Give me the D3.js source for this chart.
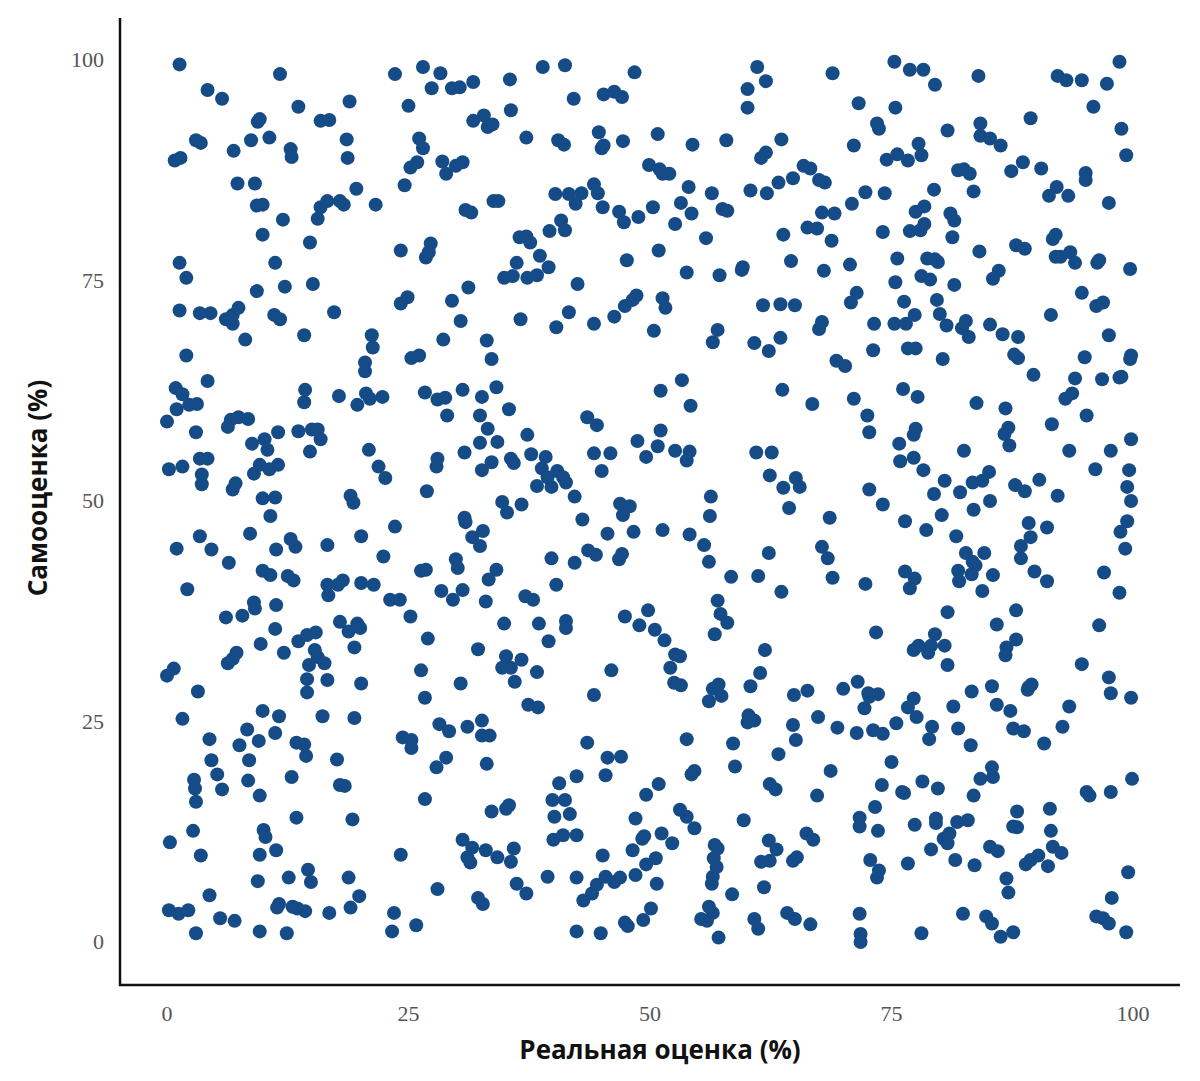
<!DOCTYPE html><html><head><meta charset="utf-8"><script src="https://cdn.jsdelivr.net/npm/d3@7"></script>
<style>body{margin:0;background:#fff}</style></head><body><svg id="c" width="1200" height="1081"></svg>
<script>
const xTicks=[0,25,50,75,100];
const yTicks=[0,25,50,75,100];
const xTitle="Реальная оценка (%)";
const yTitle="Самооценка (%)";
const pts=[
[1.3,99.5],[11.7,98.4],[23.6,98.4],[26.5,99.2],[28.3,98.5],[31.7,97.5],[35.5,97.8],[38.9,99.2],[41.2,99.4],[48.4,98.6],[61.1,99.2],[62,97.6],[68.9,98.5],[75.3,99.8],[76.9,98.9],[78.3,98.9],[79.5,97.2],[84,98.2],[92.2,98.2],[93.1,97.7],[94.7,97.7],[97.3,97.3],[98.6,99.8],[4.2,96.6],[5.7,95.6],[13.6,94.7],[18.9,95.3],[25,94.8],[27.4,96.8],[29.5,96.8],[30.3,96.9],[42.1,95.6],[45.2,96.1],[46.3,96.4],[47.1,95.8],[60.1,96.7],[60.1,94.6],[71.6,95.1],[75.4,94.6],[95.9,94.7],[3,90.9],[3.5,90.6],[0.8,88.6],[1.4,88.9],[6.9,89.7],[8.7,90.9],[9.4,93],[9.6,93.3],[12.8,89.9],[12.9,89],[15.9,93.1],[16.8,93.2],[18.6,91],[18.7,88.9],[25.2,87.8],[25.9,88.4],[26.1,91.1],[26.5,90],[28.5,88.5],[28.9,87.1],[29.9,88],[30.6,88.4],[31.7,93.1],[32.8,93.7],[33.2,92.4],[33.7,92.7],[35.6,94.3],[37.2,91.2],[40.5,90.9],[41.1,90.4],[42.3,83.7],[44.7,91.8],[45,90],[45.2,90.3],[47.2,90.8],[49.9,88.1],[50.8,91.6],[51,87.6],[51.3,87.1],[52,87.1],[53.2,83.8],[54,85.6],[54.4,90.4],[57.9,90.9],[61.5,88.9],[62,89.5],[63.6,91],[64.8,86.6],[65.9,88],[66.6,87.7],[67.5,86.4],[68.1,86.1],[70.9,83.7],[71.1,90.3],[72.3,85],[73.5,92.8],[73.7,92.2],[74.5,88.7],[75.6,89.3],[76.7,88.6],[78.1,89.2],[77.8,90.5],[80.8,92],[81.9,87.5],[82.5,87.6],[83.1,87.1],[84.2,91.4],[84.2,92.8],[85.2,91.1],[86.3,90.3],[87.4,87.4],[88.6,88.4],[89.4,93.4],[90.5,87.7],[91.3,84.6],[92.1,85.6],[93.3,84.6],[95.1,87.2],[95.1,86.4],[99.3,89.2],[98.8,92.2],[10.6,91.2],
[1.3,77],[2,75.3],[7.3,86],[9.1,86],[9.3,83.5],[9.9,83.6],[9.9,80.2],[12,81.9],[11.2,77],[14.8,79.3],[15.6,82],[15.9,83.3],[16.6,84],[17.9,84],[18.3,83.6],[21.6,83.6],[19.6,85.4],[24.2,78.4],[24.6,85.8],[26.8,77.6],[27.1,78.2],[27.3,79.2],[30.9,83],[31.5,82.7],[33.8,84],[34.3,84],[34.9,75.3],[35.8,75.5],[36.2,77],[36.5,79.9],[37.2,80],[37.6,79.3],[37.3,75.3],[38.3,75.6],[38.6,77.8],[39.5,76.5],[39.6,80.6],[40.2,84.8],[40.8,81.8],[41.2,80.7],[41.6,84.8],[42.9,84.9],[44.2,85.9],[44.6,84.9],[45.1,83.3],[46.8,82.8],[47.3,81.6],[47.6,77.3],[48.8,82.2],[50.3,83.3],[50.9,78.4],[52.6,81.4],[54.3,82.6],[55.8,79.8],[56.4,84.9],[57.5,83.1],[57.2,75.6],[58,82.9],[59.6,76.5],[60.4,85.2],[62.1,84.9],[63.3,86.1],[63.8,80.2],[64.6,77.2],[66.3,81],[67.3,80.9],[67.8,82.7],[68,76.1],[68.8,79.5],[69.1,82.6],[70.7,76.8],[71.4,73.6],[74.3,84.9],[74.1,80.5],[75.6,77.5],[76.9,80.6],[77.5,82.8],[78,80.7],[78.4,81.4],[78.4,83.4],[79.4,85.3],[79.8,77.1],[81.1,82.6],[81.5,81.8],[81.3,79.9],[83.5,85.1],[84.1,78.3],[86.1,76.1],[87.9,79],[88.8,78.6],[91.7,79.7],[92,80.2],[92.5,77.7],[93.5,78.2],[94,77],[96.3,77],[96.5,77.3],[97.5,83.8],[99.7,76.3],[92,77.7],[94.7,73.6],
[1.3,71.6],[2,66.5],[4.5,71.3],[6.1,70.6],[6.8,70.1],[6.8,71.1],[7.4,71.9],[8.1,68.3],[9.3,73.8],[11.1,71.1],[11.7,70.6],[12.2,74.3],[14.2,68.8],[15.1,74.6],[17.3,71.4],[19.7,60.9],[20.5,65.7],[20.5,64.7],[20.6,62.2],[21.2,68.8],[21.3,67.4],[22.3,61.8],[24.2,72.4],[24.9,73.1],[25.3,66.2],[26.1,66.5],[26.7,62.3],[28,61.5],[28.6,68.3],[29.5,72.7],[30.4,70.4],[31.2,74.2],[30.6,62.6],[32.6,61.8],[33.1,68.2],[33.6,66.1],[34.1,62.9],[35.4,60.4],[36.6,70.6],[40.3,69.7],[41.6,71.4],[42.5,74.6],[44.2,70.1],[46.3,70.9],[47.4,72.1],[48.2,72.8],[48.6,73.3],[50.4,69.3],[51.3,73],[51.6,71.9],[53.8,75.9],[53.3,63.7],[56.5,68],[57,69.4],[59.5,76.2],[60.8,67.9],[61.7,72.2],[62.3,67],[63.5,72.3],[63.5,68.5],[63.7,62.6],[65,72.2],[67.5,69.5],[67.8,70.3],[69.3,65.9],[70.2,65.3],[70.8,72.5],[71.1,61.6],[73.2,70.1],[73.1,67.1],[75.4,74.8],[75.3,70.1],[76.3,72.6],[76.5,70.1],[76.7,67.3],[77.4,71.1],[77.5,67.3],[76.2,62.7],[78.1,75.5],[78.7,77.5],[79,75.1],[79.5,77.4],[79.7,72.8],[80,71.2],[80.3,66.1],[80.7,69.9],[81.5,74.5],[82.3,69.6],[82.7,70.4],[83,68.6],[83.8,61.1],[85.2,70],[85.5,75.2],[86.5,68.9],[86.8,60.5],[87.7,66.6],[88.1,66.2],[88.1,68.6],[89.7,64.3],[91.5,71.1],[93,61.6],[93.7,62.2],[94,63.9],[95,66.3],[96.2,72.1],[96.9,72.5],[96.8,63.8],[97.5,68.8],[98.8,64.1],[99.8,66.5],[99.7,66.1],[0.9,62.8],[1.6,62.1],[3.1,61],[4.2,63.6],[6.3,58.4],[3.4,71.3],
[0,59],[0.2,53.6],[1,60.4],[1.6,53.9],[2.3,60.9],[3,57.8],[3.4,54.8],[3.6,51.9],[3.6,53],[4.2,54.8],[6.6,59.2],[6.8,51.3],[7.1,52],[7.4,59.5],[8.4,59.3],[8.8,56.5],[9,53.1],[9.6,54.1],[9.9,50.3],[10.1,57],[10.4,55.8],[10.6,53.6],[10.7,48.3],[11.2,50.4],[11.5,54.1],[11.5,57.8],[13.6,57.9],[14.2,61.2],[14.3,62.6],[14.8,55.6],[15,58.1],[15.6,58.1],[15.9,57],[17.8,61.9],[19,50.6],[19.3,49.8],[20.9,55.8],[21,61.6],[21.9,53.9],[22.6,52.6],[26.9,51.1],[27.9,53.9],[28,54.8],[28.8,61.7],[29,59.7],[30.8,55.5],[30.8,48.1],[30.9,47.6],[32.4,59.7],[32.4,56.6],[32.6,53.5],[33.2,58.2],[33.6,54.4],[34.2,56.7],[34.7,49.9],[35.2,48.7],[35.6,54.8],[35.9,54.3],[36.7,49.6],[37.3,57.5],[37.7,55.3],[38.3,51.7],[38.8,53.7],[39.2,55],[39.4,52.7],[39.8,51.6],[40.4,53.4],[41,52.7],[41.3,52.1],[42.2,50.5],[43,47.9],[43.5,59.5],[44.5,58.6],[44.2,55.4],[45,53.4],[45.9,55.4],[46.9,49.7],[47.2,48.4],[47.9,49.4],[48.3,46.5],[48.7,56.8],[49.6,55],[50.8,56.2],[51.1,58],[51.1,62.5],[52.6,55.7],[53.8,54.6],[54.1,55.6],[54.2,60.8],[56.3,50.5],[56.2,48.3],[61,55.5],[62.4,52.9],[62.6,55.5],[63.8,51.5],[64.4,49.2],[65.1,52.6],[65.5,51.6],[66.8,61],[68.6,48.1],[72.5,59.7],[72.7,57.8],[72.7,51.3],[74.1,49.6],[75.8,56.5],[75.9,54.5],[76.4,47.7],[77.3,57.5],[77.3,54.9],[77.5,58.2],[77.7,61.8],[78.3,53.5],[78.6,46.7],[79.4,50.8],[80.2,48.4],[80.5,52.3],[81.7,46],[82.1,51],[82.5,55.7],[83.4,52.1],[83.5,49],[84.4,52.3],[85.1,53.3],[85.2,50],[86.7,57.6],[87.1,58.3],[87.2,56.3],[87.8,51.8],[88.8,51.1],[89.4,45.9],[89.2,47.5],[91.1,47],[90.3,52.4],[91.6,58.7],[92.2,50.6],[93.4,55.7],[95.2,59.7],[96.1,53.6],[97.7,55.7],[99.4,51.6],[99.6,53.5],[99.8,50],[99.8,57],[98.7,46.5],[99.4,47.7],[98.6,64],
[1,44.6],[2.1,40],[3.4,46],[4.6,44.5],[6.4,43],[6.1,36.8],[6.8,32.1],[7.8,37],[6.3,31.6],[7.2,32.8],[8.3,24.1],[8.6,46.3],[9,38.5],[9.1,37.8],[9.9,42.1],[9.7,33.8],[10.7,41.6],[11.3,44.5],[11.3,38.2],[12.5,41.5],[13.1,41],[12.8,45.7],[13.3,44.8],[13.6,34.1],[14.5,34.8],[14.5,29.8],[14.7,31.4],[15.3,33.1],[15.6,32.3],[16.3,31.6],[15.4,35.1],[16.6,45],[16.6,40.5],[16.7,39.3],[17.7,40.5],[17.9,36.3],[18.2,41],[18.8,35.2],[19.4,33.4],[19.7,36.1],[20,35.6],[20.1,46],[20.1,40.7],[21.4,40.5],[22.4,43.7],[23.6,47.1],[23.1,38.8],[24.1,38.8],[25.2,36.9],[26.3,42.1],[26.8,42.2],[27,34.4],[28.4,39.8],[29.6,38.8],[29.9,43.4],[30.1,42.4],[30.6,39.9],[31.6,45.9],[32.7,46.6],[32.4,44.9],[33,38.6],[33.3,41.1],[34.1,42.2],[34.9,36.1],[35.6,31.1],[35.1,32.4],[36,29.5],[37.1,39.2],[37.9,38.8],[38.5,36.1],[39.8,43.5],[39.5,34.1],[40.3,40.5],[41.3,36.4],[41.3,35.6],[42.2,43],[43.6,44.4],[44.4,43.9],[45.6,46.3],[46.8,43.4],[47.1,44],[46,30.8],[47.4,36.9],[48.9,35.9],[49.8,37.6],[50.5,35.4],[51.5,34.2],[52.1,31.1],[51.3,46.7],[52.5,29.4],[52.6,32.6],[53.1,32.4],[54.1,46.2],[55.6,45],[56.1,43.1],[57,38.7],[56.7,34.9],[57.3,37.2],[58,36.2],[58.4,41.4],[61.2,41.5],[62.3,44.1],[63.6,39.7],[67.8,44.8],[68.4,43.5],[68.9,41.3],[72.3,40.6],[73.4,35.1],[76.4,42],[76.9,40.1],[77.4,41.2],[77.3,33.1],[77.8,33.6],[78.8,32.8],[79.1,33.6],[79.5,34.9],[80.8,37.4],[80.5,33.6],[80.8,31.4],[81.9,42.1],[82,40.9],[82.7,44.1],[83.3,41.7],[83.7,42.7],[83.4,43.1],[84.4,39.8],[84.6,44.1],[85.5,41.6],[85.9,36],[86.9,33.4],[86.8,32.5],[87.9,34.3],[87.9,37.6],[88.4,43.5],[88.4,44.9],[89.8,42],[89.2,28.9],[91.1,40.9],[97,41.9],[98.6,39.6],[99.2,44.6],[96.5,35.9],[94.7,31.5],[0,30.2],[0.7,31],[3.2,28.4],[11.2,35.5],[12.1,32.8],[14.5,28.3],
[1.6,25.3],[4.4,23],[4.6,20.6],[5.2,19],[5.7,17.3],[7.5,22.3],[8.4,18.3],[8.5,20.6],[9.5,22.8],[9.6,16.6],[9.9,26.2],[11.6,25.6],[11.2,23.7],[12.9,18.7],[13.4,22.6],[14.2,22.4],[14.4,21.1],[16.1,25.6],[16.6,29.7],[17.6,20.7],[17.9,17.8],[18.4,17.7],[19.4,25.4],[20.1,29.3],[24.4,23.2],[25.3,22.9],[25.3,22],[26.3,30.8],[26.7,27.7],[26.7,16.2],[27.9,19.8],[28.2,24.7],[28.9,20.9],[29.2,23.9],[30.4,29.3],[31.1,24.4],[32.2,33.2],[32.6,25.1],[32.6,23.4],[33.1,20.2],[33.4,23.4],[34.7,31.1],[35.4,15.5],[36.7,32],[37.4,26.9],[38.3,30.6],[38.4,26.6],[40.6,18],[39.9,16.1],[41.2,16.1],[41.7,14.5],[42.4,18.8],[42.4,12.1],[43.5,22.6],[44.2,28],[45.6,20.9],[45.4,18.9],[47,21],[48.5,14],[49.6,16.7],[49.4,12],[50.9,17.9],[53.2,29.1],[53.8,14.2],[53.8,23],[54.3,19],[54.6,19.4],[56.1,27.3],[56.5,28.7],[57.1,29.2],[57.4,27.9],[58.6,22.5],[58.8,19.9],[60.1,24.9],[60.2,25.7],[60.4,29],[60.8,25.1],[61.4,30.5],[61.9,33.1],[62.4,17.9],[63,17.3],[63.3,21.3],[64.8,24.6],[64.9,28],[65.1,22.9],[66.3,28.5],[67.4,25.5],[68.7,19.4],[69.4,24.3],[70,28.7],[71.4,23.7],[71.5,29.5],[72.2,26.5],[72.6,28.2],[72.7,27.8],[73.1,24],[73.6,28.1],[74.1,23.6],[74,17.8],[75,20.4],[75.5,24.8],[76.1,17],[76.3,16.9],[76.7,26.6],[77.3,27.6],[77.6,25.5],[78.2,18.2],[78.9,23],[79.2,24.4],[79.8,17.4],[79.6,13.5],[81.4,26.7],[81.9,24.2],[83.3,28.4],[83.2,22.3],[83.5,16.6],[84.2,18.5],[85.5,18.7],[85.4,19.8],[85.4,29],[85.9,26.9],[87.3,26.2],[87.6,24.2],[88.7,23.9],[89.1,28.6],[89.5,29.2],[90.8,22.5],[91.4,15.1],[92.7,24.4],[93.4,26.7],[95.2,17],[95.5,16.6],[97.7,17],[97.7,28.2],[97.5,30],[99.9,18.5],[99.8,27.7],[2.8,18.4],[2.9,17.4],[3,15.9],[0.3,11.3],[2.7,12.6],[3.5,9.8],[4.4,5.3],
[0.2,3.6],[1.2,3.2],[2.2,3.6],[3,1],[5.5,2.7],[7,2.4],[9.4,6.9],[9.6,9.9],[9.6,1.2],[10,12.7],[10.2,11.9],[11.3,10.4],[11.4,3.9],[11.6,4.3],[12.6,7.3],[12.4,1],[13,4],[13.5,3.8],[13.4,14.1],[14.6,8.2],[14.9,6.8],[14.3,3.5],[16.8,3.3],[18.8,7.3],[19,3.9],[19.2,13.9],[19.9,5.2],[23.5,3.3],[23.3,1.2],[24.2,9.9],[25.8,1.9],[28,6],[30.6,11.6],[31.1,9.6],[31.4,9],[31.6,10.7],[32.2,5],[32.7,4.3],[33,10.4],[33.6,14.8],[34.2,9.6],[35.1,15.1],[35.6,9.1],[36.2,6.6],[35.9,10.6],[37.2,5.5],[39.4,7.4],[40.1,14.2],[40,11.6],[41,12.1],[42.4,7.3],[42.4,1.2],[43.1,4.7],[44,5.5],[44.5,6.5],[44.9,1],[45.1,9.8],[45.4,7.4],[46.3,6.8],[46.9,7.3],[47.4,2.2],[47.7,1.8],[48.2,10.4],[48.5,7.6],[49.3,2.5],[49.6,8.8],[49.2,11.7],[50.1,3.8],[50.7,6.6],[50.6,9.5],[51.2,12.3],[52.3,11.2],[53.1,15],[54.6,12.9],[55.3,2.6],[55.9,2.4],[56.5,3.3],[56.1,4],[56.6,9.5],[57,10.6],[56.7,11],[56.9,8.5],[56.4,6.6],[56.5,7.4],[57.1,0.5],[58.5,5.4],[59.7,13.8],[60.8,2.6],[61.2,1.5],[61.5,9.1],[61.8,6.2],[62.3,11.5],[62.4,9.2],[63.1,10.5],[64.2,3.3],[64.8,9.2],[65,2.6],[65.2,9.6],[66.2,12.3],[66.6,2],[67.3,16.6],[66.9,11.6],[71.7,14.1],[71.7,13.1],[71.7,3.2],[71.8,0.9],[71.8,0],[72.8,9.3],[73.5,7.3],[73.7,8.1],[73.6,12.6],[73.3,15.3],[76.7,8.9],[77.4,13.3],[78.1,1],[79.1,10.5],[79.6,14],[80.4,11.7],[80.8,11.2],[81,12.3],[81.6,9.3],[81.8,13.6],[82.4,3.2],[82.9,13.8],[83.6,8.7],[84.8,2.9],[85.2,10.8],[85.4,2.1],[86,10.3],[86.3,0.6],[86.9,7.2],[87.1,5.6],[87.6,1.1],[87.6,13.1],[88,13],[88,14.8],[88.9,8.8],[89.4,9.3],[90.2,9.8],[91.2,8.6],[91.5,12.6],[91.7,10.8],[92.6,10.1],[96.2,2.9],[96.9,2.7],[97.5,2.1],[97.8,5],[99.3,1.1],[99.5,7.9]
];
const svg=d3.select("#c");
const x=d3.scaleLinear().domain([0,100]).range([167,1133]);
const y=d3.scaleLinear().domain([0,100]).range([942,60]);
svg.append("line").attr("x1",120).attr("x2",120).attr("y1",18).attr("y2",986).attr("stroke","#111").attr("stroke-width",2.5);
svg.append("line").attr("x1",119).attr("x2",1180).attr("y1",985).attr("y2",985).attr("stroke","#111").attr("stroke-width",2.5);
svg.append("g").selectAll("text").data(xTicks).join("text").attr("x",d=>x(d)).attr("y",1021).attr("text-anchor","middle")
 .attr("font-family","Liberation Serif").attr("font-size",22).attr("fill","#555").text(d=>d);
svg.append("g").selectAll("text").data(yTicks).join("text").attr("x",104).attr("y",d=>y(d)+7).attr("text-anchor","end")
 .attr("font-family","Liberation Serif").attr("font-size",22).attr("fill","#555").text(d=>d);
svg.append("g").selectAll("circle").data(pts).join("circle").attr("cx",d=>x(d[0])).attr("cy",d=>y(d[1])).attr("r",7).attr("fill","#154b86");
svg.append("text").attr("x",660).attr("y",1059).attr("text-anchor","middle").attr("font-family","Open Sans").attr("font-weight","bold").attr("font-size",26).attr("fill","#111").text(xTitle);
svg.append("text").attr("transform","translate(47,488) rotate(-90)").attr("text-anchor","middle").attr("font-family","Open Sans").attr("font-weight","bold").attr("font-size",26).attr("fill","#111").text(yTitle);
</script></body></html>
